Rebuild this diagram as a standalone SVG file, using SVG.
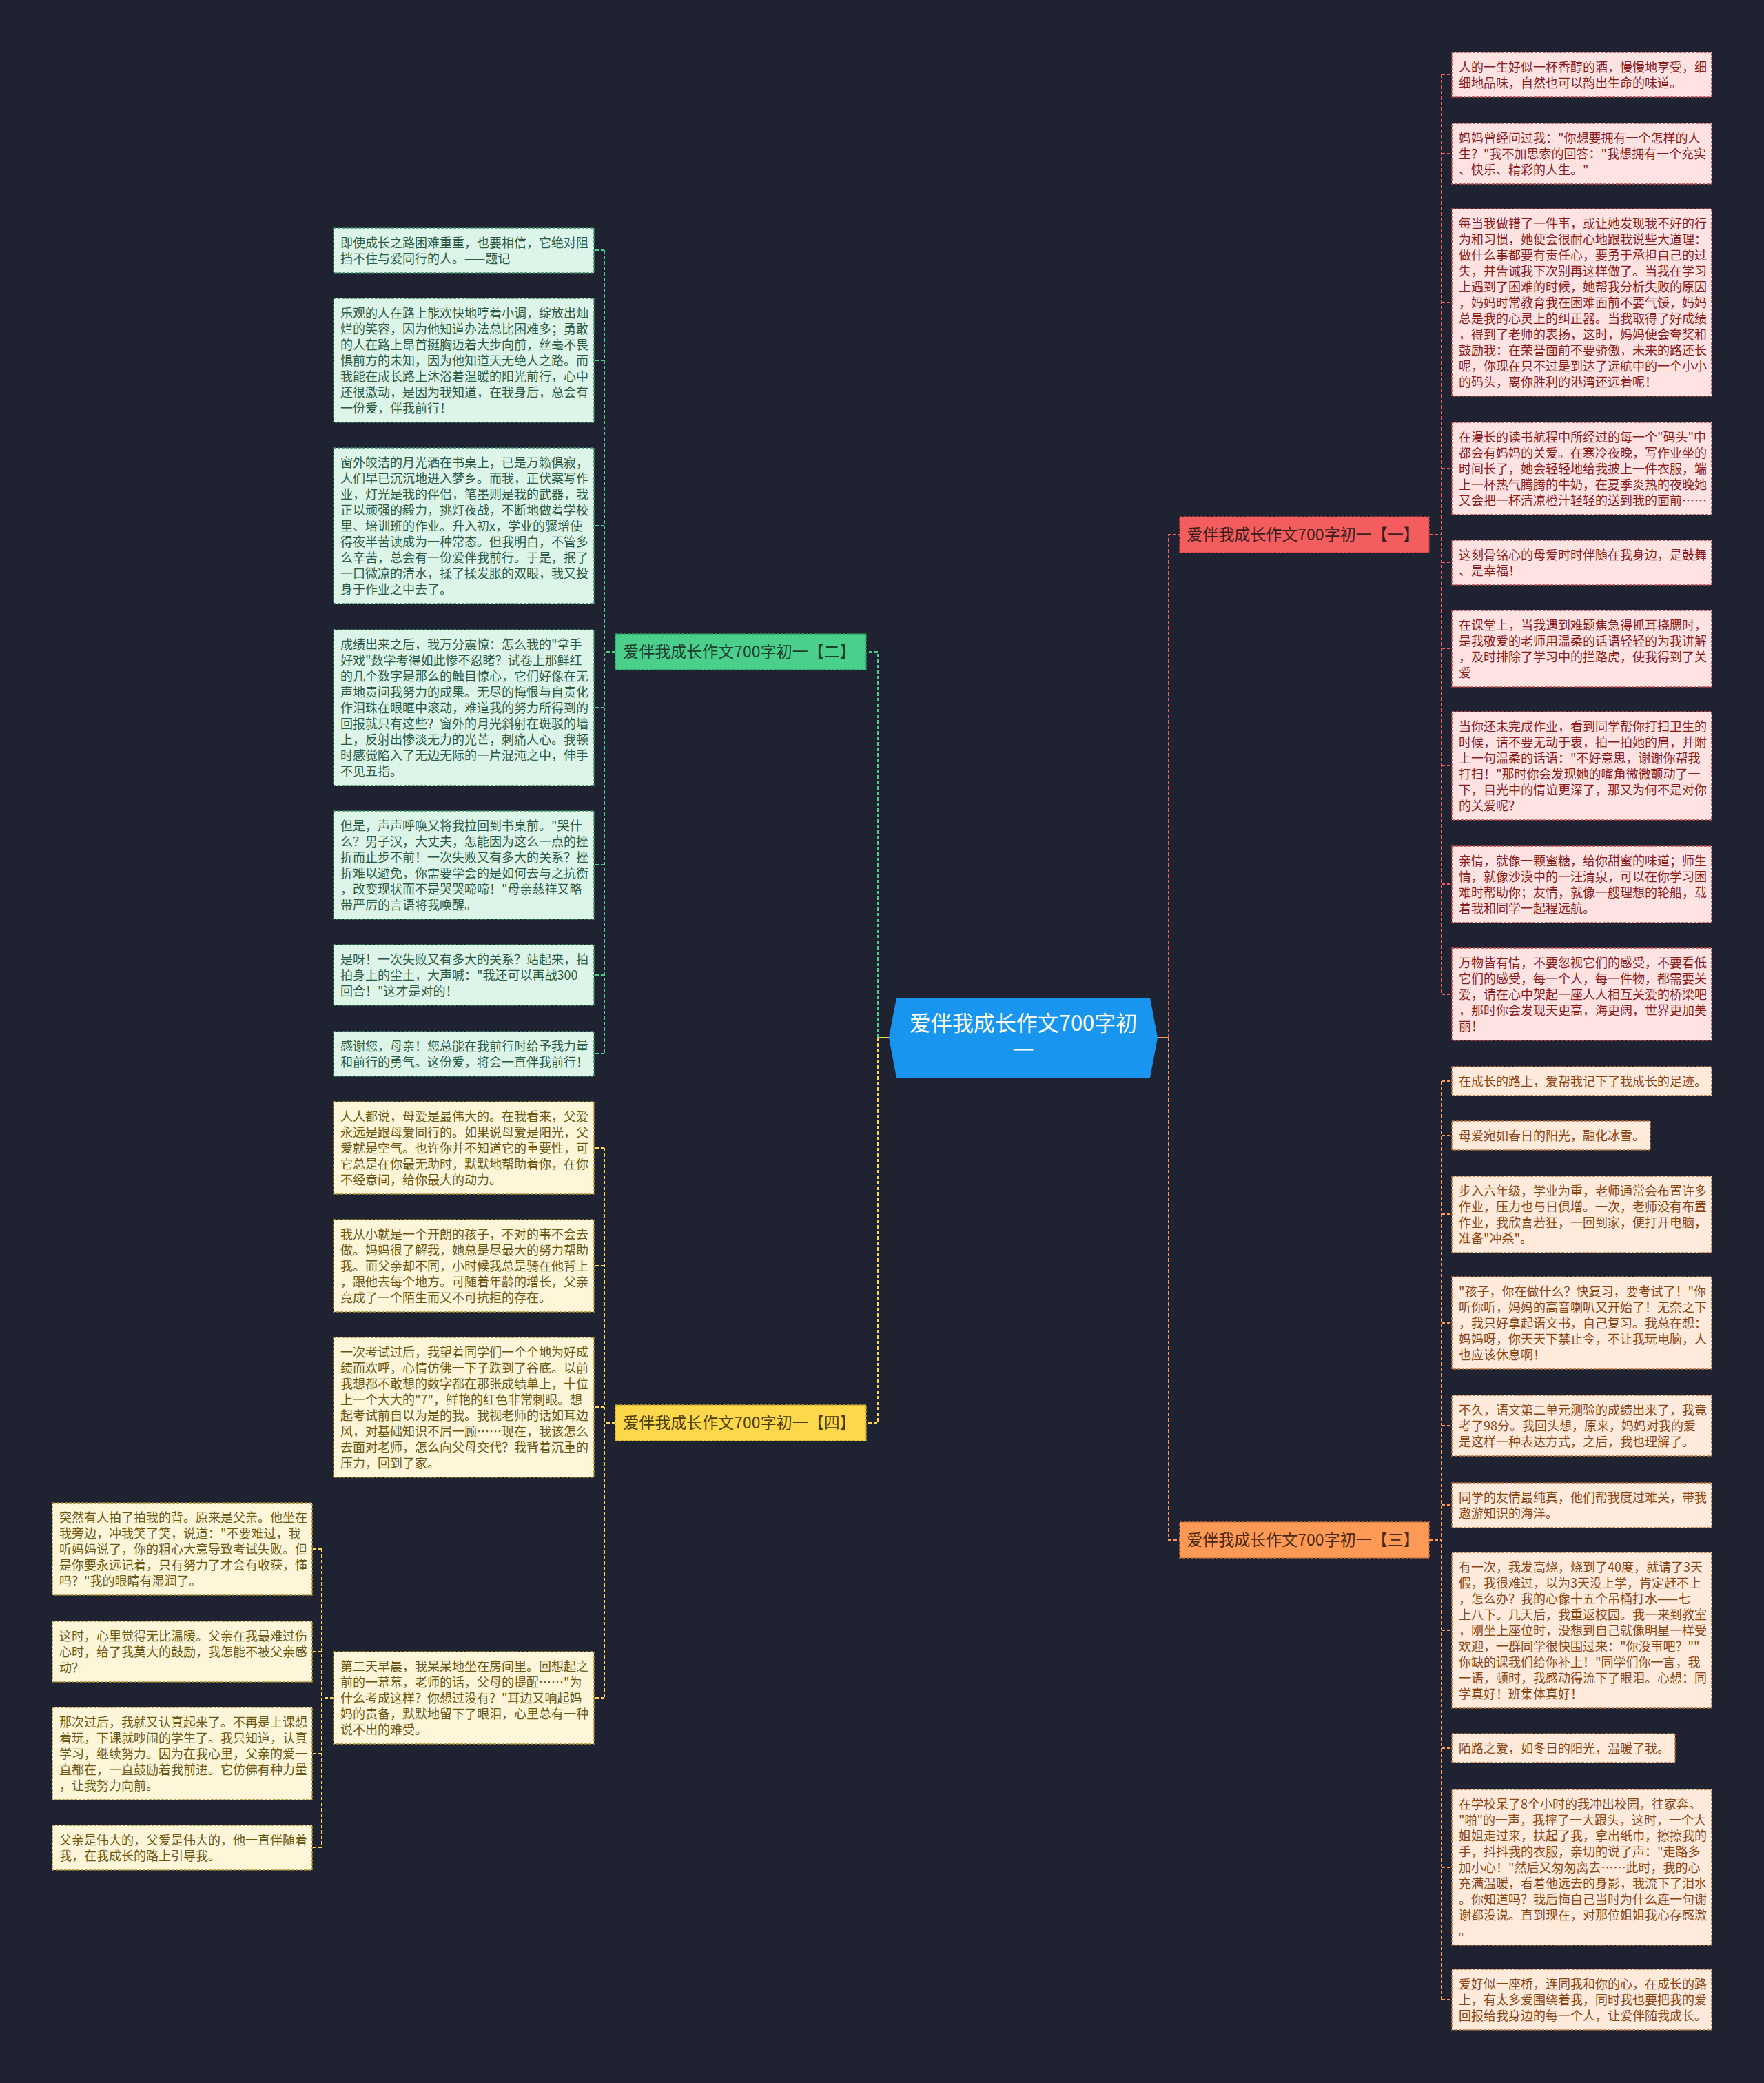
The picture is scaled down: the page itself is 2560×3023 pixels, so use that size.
<svg xmlns="http://www.w3.org/2000/svg" width="2560" height="3023" viewBox="0 0 2560 3023">
<style>
text{font-family:"Noto Sans CJK SC","Noto Sans",sans-serif}
.leaf rect{stroke-width:1.5;stroke-dasharray:4 2}
.leaf text{font-size:18px}
.red rect{fill:#ffe3e3;stroke:#b8484a}.red text{fill:#8b1c1c}
.org rect{fill:#ffeadb;stroke:#b8703a}.org text{fill:#8a4515}
.grn rect{fill:#dcf5e8;stroke:#3d8a64}.grn text{fill:#2d5a45}
.yel rect{fill:#fff6d9;stroke:#a88c2a}.yel text{fill:#6b5612}
.br rect{stroke-width:1.5;stroke-dasharray:4 2}
.br text{font-size:23px;text-anchor:middle}
.lk{fill:none;stroke-width:2;stroke-dasharray:5 3}
.lr{stroke:#f25c5c}.lo{stroke:#fe9956}.lg{stroke:#4bcf8c}.ly{stroke:#fdd84b}
</style>
<rect width="2560" height="3023" fill="#1f2230"/>
<g id="connectors">
<path d="M1680,1506 H1696" stroke="#fe9956" stroke-width="2" fill="none"/>
<path d="M1290,1506 H1274" stroke="#fdd84b" stroke-width="2" fill="none"/>
<path class="lk lr" d="M1696,1506 V776 H1712"/>
<path class="lk lo" d="M1696,1506 V2235 H1712"/>
<path class="lk lg" d="M1274,1506 V946 H1260"/>
<path class="lk ly" d="M1274,1506 V2065 H1260"/>
<path class="lk lr" d="M2074,776 H2092 M2092,108 V1443 M2092,108 H2107 M2092,223 H2107 M2092,439 H2107 M2092,680 H2107 M2092,816 H2107 M2092,941 H2107 M2092,1111 H2107 M2092,1283 H2107 M2092,1443 H2107"/>
<path class="lk lo" d="M2074,2235 H2092 M2092,1569 V2902 M2092,1569 H2107 M2092,1648 H2107 M2092,1762 H2107 M2092,1920 H2107 M2092,2069 H2107 M2092,2184 H2107 M2092,2366 H2107 M2092,2537 H2107 M2092,2710 H2107 M2092,2902 H2107"/>
<path class="lk lg" d="M893,946 H877 M877,363 V1529 M877,363 H862 M877,523 H862 M877,763 H862 M877,1027 H862 M877,1255 H862 M877,1415 H862 M877,1529 H862"/>
<path class="lk ly" d="M893,2065 H877 M877,1666 V2464 M877,1666 H862 M877,1837 H862 M877,2042 H862 M877,2464 H862"/>
<path class="lk ly" d="M484,2464 H467 M467,2248 V2681 M467,2248 H453 M467,2397 H453 M467,2545 H453 M467,2681 H453"/>
</g>
<g id="center">
<polygon points="1301,1448 1669,1448 1680,1506 1669,1564 1301,1564 1290,1506" fill="#1896ef"/>
<text x="1485" y="1496" font-size="31" fill="#ffffff" text-anchor="middle">爱伴我成长作文700字初</text>
<text x="1485" y="1535" font-size="31" fill="#ffffff" text-anchor="middle">一</text>
</g>
<g id="b1" class="br"><rect x="1712" y="750" width="362" height="52" fill="#f45d5d" stroke="#c24040"/><text x="1891" y="784" fill="#3a1f1f">爱伴我成长作文700字初一【一】</text></g>
<g id="b2" class="br"><rect x="893" y="920" width="364" height="52" fill="#4bcf8c" stroke="#2f9a62"/><text x="1073" y="954" fill="#1f3f2e">爱伴我成长作文700字初一【二】</text></g>
<g id="b4" class="br"><rect x="893" y="2039" width="364" height="52" fill="#fdd84b" stroke="#c2a22a"/><text x="1073" y="2073" fill="#4d3d0a">爱伴我成长作文700字初一【四】</text></g>
<g id="b3" class="br"><rect x="1712" y="2209" width="362" height="52" fill="#fe9956" stroke="#c8703a"/><text x="1891" y="2243" fill="#4a2a12">爱伴我成长作文700字初一【三】</text></g>

<g id="r1" class="leaf red"><rect x="2107" y="76" width="377" height="65"/><text y="104"><tspan x="2117">人的一生好似一杯香醇的酒，慢慢地享受，细</tspan><tspan x="2117" dy="23">细地品味，自然也可以韵出生命的味道。</tspan></text></g>
<g id="r2" class="leaf red"><rect x="2107" y="179" width="377" height="88"/><text y="207"><tspan x="2117">妈妈曾经问过我："你想要拥有一个怎样的人</tspan><tspan x="2117" dy="23">生？"我不加思索的回答："我想拥有一个充实</tspan><tspan x="2117" dy="23">、快乐、精彩的人生。"</tspan></text></g>
<g id="r3" class="leaf red"><rect x="2107" y="303" width="377" height="272"/><text y="331"><tspan x="2117">每当我做错了一件事，或让她发现我不好的行</tspan><tspan x="2117" dy="23">为和习惯，她便会很耐心地跟我说些大道理：</tspan><tspan x="2117" dy="23">做什么事都要有责任心，要勇于承担自己的过</tspan><tspan x="2117" dy="23">失，并告诫我下次别再这样做了。当我在学习</tspan><tspan x="2117" dy="23">上遇到了困难的时候，她帮我分析失败的原因</tspan><tspan x="2117" dy="23">，妈妈时常教育我在困难面前不要气馁，妈妈</tspan><tspan x="2117" dy="23">总是我的心灵上的纠正器。当我取得了好成绩</tspan><tspan x="2117" dy="23">，得到了老师的表扬，这时，妈妈便会夸奖和</tspan><tspan x="2117" dy="23">鼓励我：在荣誉面前不要骄傲，未来的路还长</tspan><tspan x="2117" dy="23">呢，你现在只不过是到达了远航中的一个小小</tspan><tspan x="2117" dy="23">的码头，离你胜利的港湾还远着呢！</tspan></text></g>
<g id="r4" class="leaf red"><rect x="2107" y="613" width="377" height="134"/><text y="641"><tspan x="2117">在漫长的读书航程中所经过的每一个"码头"中</tspan><tspan x="2117" dy="23">都会有妈妈的关爱。在寒冷夜晚，写作业坐的</tspan><tspan x="2117" dy="23">时间长了，她会轻轻地给我披上一件衣服，端</tspan><tspan x="2117" dy="23">上一杯热气腾腾的牛奶，在夏季炎热的夜晚她</tspan><tspan x="2117" dy="23">又会把一杯清凉橙汁轻轻的送到我的面前……</tspan></text></g>
<g id="r5" class="leaf red"><rect x="2107" y="784" width="377" height="65"/><text y="812"><tspan x="2117">这刻骨铭心的母爱时时伴随在我身边，是鼓舞</tspan><tspan x="2117" dy="23">、是幸福！</tspan></text></g>
<g id="r6" class="leaf red"><rect x="2107" y="886" width="377" height="111"/><text y="914"><tspan x="2117">在课堂上，当我遇到难题焦急得抓耳挠腮时，</tspan><tspan x="2117" dy="23">是我敬爱的老师用温柔的话语轻轻的为我讲解</tspan><tspan x="2117" dy="23">，及时排除了学习中的拦路虎，使我得到了关</tspan><tspan x="2117" dy="23">爱</tspan></text></g>
<g id="r7" class="leaf red"><rect x="2107" y="1033" width="377" height="157"/><text y="1061"><tspan x="2117">当你还未完成作业，看到同学帮你打扫卫生的</tspan><tspan x="2117" dy="23">时候，请不要无动于衷，拍一拍她的肩，并附</tspan><tspan x="2117" dy="23">上一句温柔的话语："不好意思，谢谢你帮我</tspan><tspan x="2117" dy="23">打扫！"那时你会发现她的嘴角微微颤动了一</tspan><tspan x="2117" dy="23">下，目光中的情谊更深了，那又为何不是对你</tspan><tspan x="2117" dy="23">的关爱呢？</tspan></text></g>
<g id="r8" class="leaf red"><rect x="2107" y="1228" width="377" height="111"/><text y="1256"><tspan x="2117">亲情，就像一颗蜜糖，给你甜蜜的味道；师生</tspan><tspan x="2117" dy="23">情，就像沙漠中的一汪清泉，可以在你学习困</tspan><tspan x="2117" dy="23">难时帮助你；友情，就像一艘理想的轮船，载</tspan><tspan x="2117" dy="23">着我和同学一起程远航。</tspan></text></g>
<g id="r9" class="leaf red"><rect x="2107" y="1376" width="377" height="134"/><text y="1404"><tspan x="2117">万物皆有情，不要忽视它们的感受，不要看低</tspan><tspan x="2117" dy="23">它们的感受，每一个人，每一件物，都需要关</tspan><tspan x="2117" dy="23">爱，请在心中架起一座人人相互关爱的桥梁吧</tspan><tspan x="2117" dy="23">，那时你会发现天更高，海更阔，世界更加美</tspan><tspan x="2117" dy="23">丽！</tspan></text></g>

<g id="o1" class="leaf org"><rect x="2107" y="1548" width="377" height="42"/><text y="1576"><tspan x="2117">在成长的路上，爱帮我记下了我成长的足迹。</tspan></text></g>
<g id="o2" class="leaf org"><rect x="2107" y="1627" width="288" height="42"/><text y="1655"><tspan x="2117">母爱宛如春日的阳光，融化冰雪。</tspan></text></g>
<g id="o3" class="leaf org"><rect x="2107" y="1707" width="377" height="111"/><text y="1735"><tspan x="2117">步入六年级，学业为重，老师通常会布置许多</tspan><tspan x="2117" dy="23">作业，压力也与日俱增。一次，老师没有布置</tspan><tspan x="2117" dy="23">作业，我欣喜若狂，一回到家，便打开电脑，</tspan><tspan x="2117" dy="23">准备"冲杀"。</tspan></text></g>
<g id="o4" class="leaf org"><rect x="2107" y="1853" width="377" height="134"/><text y="1881"><tspan x="2117">"孩子，你在做什么？快复习，要考试了！"你</tspan><tspan x="2117" dy="23">听你听，妈妈的高音喇叭又开始了！无奈之下</tspan><tspan x="2117" dy="23">，我只好拿起语文书，自己复习。我总在想：</tspan><tspan x="2117" dy="23">妈妈呀，你天天下禁止令，不让我玩电脑，人</tspan><tspan x="2117" dy="23">也应该休息啊！</tspan></text></g>
<g id="o5" class="leaf org"><rect x="2107" y="2025" width="377" height="88"/><text y="2053"><tspan x="2117">不久，语文第二单元测验的成绩出来了，我竟</tspan><tspan x="2117" dy="23">考了98分。我回头想，原来，妈妈对我的爱</tspan><tspan x="2117" dy="23">是这样一种表达方式，之后，我也理解了。</tspan></text></g>
<g id="o6" class="leaf org"><rect x="2107" y="2152" width="377" height="65"/><text y="2180"><tspan x="2117">同学的友情最纯真，他们帮我度过难关，带我</tspan><tspan x="2117" dy="23">遨游知识的海洋。</tspan></text></g>
<g id="o7" class="leaf org"><rect x="2107" y="2253" width="377" height="226"/><text y="2281"><tspan x="2117">有一次，我发高烧，烧到了40度，就请了3天</tspan><tspan x="2117" dy="23">假，我很难过，以为3天没上学，肯定赶不上</tspan><tspan x="2117" dy="23">，怎么办？我的心像十五个吊桶打水——七</tspan><tspan x="2117" dy="23">上八下。几天后，我重返校园。我一来到教室</tspan><tspan x="2117" dy="23">，刚坐上座位时，没想到自己就像明星一样受</tspan><tspan x="2117" dy="23">欢迎，一群同学很快围过来："你没事吧？""</tspan><tspan x="2117" dy="23">你缺的课我们给你补上！"同学们你一言，我</tspan><tspan x="2117" dy="23">一语，顿时，我感动得流下了眼泪。心想：同</tspan><tspan x="2117" dy="23">学真好！班集体真好！</tspan></text></g>
<g id="o8" class="leaf org"><rect x="2107" y="2516" width="324" height="42"/><text y="2544"><tspan x="2117">陌路之爱，如冬日的阳光，温暖了我。</tspan></text></g>
<g id="o9" class="leaf org"><rect x="2107" y="2597" width="377" height="226"/><text y="2625"><tspan x="2117">在学校呆了8个小时的我冲出校园，往家奔。</tspan><tspan x="2117" dy="23">"啪"的一声，我摔了一大跟头，这时，一个大</tspan><tspan x="2117" dy="23">姐姐走过来，扶起了我，拿出纸巾，擦擦我的</tspan><tspan x="2117" dy="23">手，抖抖我的衣服，亲切的说了声："走路多</tspan><tspan x="2117" dy="23">加小心！"然后又匆匆离去……此时，我的心</tspan><tspan x="2117" dy="23">充满温暖，看着他远去的身影，我流下了泪水</tspan><tspan x="2117" dy="23">。你知道吗？我后悔自己当时为什么连一句谢</tspan><tspan x="2117" dy="23">谢都没说。直到现在，对那位姐姐我心存感激</tspan><tspan x="2117" dy="23">。</tspan></text></g>
<g id="o10" class="leaf org"><rect x="2107" y="2858" width="377" height="88"/><text y="2886"><tspan x="2117">爱好似一座桥，连同我和你的心，在成长的路</tspan><tspan x="2117" dy="23">上，有太多爱围绕着我，同时我也要把我的爱</tspan><tspan x="2117" dy="23">回报给我身边的每一个人，让爱伴随我成长。</tspan></text></g>

<g id="g1" class="leaf grn"><rect x="484" y="331" width="378" height="65"/><text y="359"><tspan x="494">即使成长之路困难重重，也要相信，它绝对阻</tspan><tspan x="494" dy="23">挡不住与爱同行的人。——题记</tspan></text></g>
<g id="g2" class="leaf grn"><rect x="484" y="433" width="378" height="180"/><text y="461"><tspan x="494">乐观的人在路上能欢快地哼着小调，绽放出灿</tspan><tspan x="494" dy="23">烂的笑容，因为他知道办法总比困难多；勇敢</tspan><tspan x="494" dy="23">的人在路上昂首挺胸迈着大步向前，丝毫不畏</tspan><tspan x="494" dy="23">惧前方的未知，因为他知道天无绝人之路。而</tspan><tspan x="494" dy="23">我能在成长路上沐浴着温暖的阳光前行，心中</tspan><tspan x="494" dy="23">还很激动，是因为我知道，在我身后，总会有</tspan><tspan x="494" dy="23">一份爱，伴我前行！</tspan></text></g>
<g id="g3" class="leaf grn"><rect x="484" y="650" width="378" height="226"/><text y="678"><tspan x="494">窗外皎洁的月光洒在书桌上，已是万籁俱寂，</tspan><tspan x="494" dy="23">人们早已沉沉地进入梦乡。而我，正伏案写作</tspan><tspan x="494" dy="23">业，灯光是我的伴侣，笔墨则是我的武器，我</tspan><tspan x="494" dy="23">正以顽强的毅力，挑灯夜战，不断地做着学校</tspan><tspan x="494" dy="23">里、培训班的作业。升入初x，学业的骤增使</tspan><tspan x="494" dy="23">得夜半苦读成为一种常态。但我明白，不管多</tspan><tspan x="494" dy="23">么辛苦，总会有一份爱伴我前行。于是，抿了</tspan><tspan x="494" dy="23">一口微凉的清水，揉了揉发胀的双眼，我又投</tspan><tspan x="494" dy="23">身于作业之中去了。</tspan></text></g>
<g id="g4" class="leaf grn"><rect x="484" y="914" width="378" height="226"/><text y="942"><tspan x="494">成绩出来之后，我万分震惊：怎么我的"拿手</tspan><tspan x="494" dy="23">好戏"数学考得如此惨不忍睹？试卷上那鲜红</tspan><tspan x="494" dy="23">的几个数字是那么的触目惊心，它们好像在无</tspan><tspan x="494" dy="23">声地责问我努力的成果。无尽的悔恨与自责化</tspan><tspan x="494" dy="23">作泪珠在眼眶中滚动，难道我的努力所得到的</tspan><tspan x="494" dy="23">回报就只有这些？窗外的月光斜射在斑驳的墙</tspan><tspan x="494" dy="23">上，反射出惨淡无力的光芒，刺痛人心。我顿</tspan><tspan x="494" dy="23">时感觉陷入了无边无际的一片混沌之中，伸手</tspan><tspan x="494" dy="23">不见五指。</tspan></text></g>
<g id="g5" class="leaf grn"><rect x="484" y="1177" width="378" height="157"/><text y="1205"><tspan x="494">但是，声声呼唤又将我拉回到书桌前。"哭什</tspan><tspan x="494" dy="23">么？男子汉，大丈夫，怎能因为这么一点的挫</tspan><tspan x="494" dy="23">折而止步不前！一次失败又有多大的关系？挫</tspan><tspan x="494" dy="23">折难以避免，你需要学会的是如何去与之抗衡</tspan><tspan x="494" dy="23">，改变现状而不是哭哭啼啼！"母亲慈祥又略</tspan><tspan x="494" dy="23">带严厉的言语将我唤醒。</tspan></text></g>
<g id="g6" class="leaf grn"><rect x="484" y="1371" width="378" height="88"/><text y="1399"><tspan x="494">是呀！一次失败又有多大的关系？站起来，拍</tspan><tspan x="494" dy="23">拍身上的尘土，大声喊："我还可以再战300</tspan><tspan x="494" dy="23">回合！"这才是对的！</tspan></text></g>
<g id="g7" class="leaf grn"><rect x="484" y="1497" width="378" height="65"/><text y="1525"><tspan x="494">感谢您，母亲！您总能在我前行时给予我力量</tspan><tspan x="494" dy="23">和前行的勇气。这份爱，将会一直伴我前行！</tspan></text></g>

<g id="y1" class="leaf yel"><rect x="484" y="1599" width="378" height="134"/><text y="1627"><tspan x="494">人人都说，母爱是最伟大的。在我看来，父爱</tspan><tspan x="494" dy="23">永远是跟母爱同行的。如果说母爱是阳光，父</tspan><tspan x="494" dy="23">爱就是空气。也许你并不知道它的重要性，可</tspan><tspan x="494" dy="23">它总是在你最无助时，默默地帮助着你，在你</tspan><tspan x="494" dy="23">不经意间，给你最大的动力。</tspan></text></g>
<g id="y2" class="leaf yel"><rect x="484" y="1770" width="378" height="134"/><text y="1798"><tspan x="494">我从小就是一个开朗的孩子，不对的事不会去</tspan><tspan x="494" dy="23">做。妈妈很了解我，她总是尽最大的努力帮助</tspan><tspan x="494" dy="23">我。而父亲却不同，小时候我总是骑在他背上</tspan><tspan x="494" dy="23">，跟他去每个地方。可随着年龄的增长，父亲</tspan><tspan x="494" dy="23">竟成了一个陌生而又不可抗拒的存在。</tspan></text></g>
<g id="y3" class="leaf yel"><rect x="484" y="1941" width="378" height="203"/><text y="1969"><tspan x="494">一次考试过后，我望着同学们一个个地为好成</tspan><tspan x="494" dy="23">绩而欢呼，心情仿佛一下子跌到了谷底。以前</tspan><tspan x="494" dy="23">我想都不敢想的数字都在那张成绩单上，十位</tspan><tspan x="494" dy="23">上一个大大的"7"，鲜艳的红色非常刺眼。想</tspan><tspan x="494" dy="23">起考试前自以为是的我。我视老师的话如耳边</tspan><tspan x="494" dy="23">风，对基础知识不屑一顾……现在，我该怎么</tspan><tspan x="494" dy="23">去面对老师，怎么向父母交代？我背着沉重的</tspan><tspan x="494" dy="23">压力，回到了家。</tspan></text></g>
<g id="y4" class="leaf yel"><rect x="484" y="2397" width="378" height="134"/><text y="2425"><tspan x="494">第二天早晨，我呆呆地坐在房间里。回想起之</tspan><tspan x="494" dy="23">前的一幕幕，老师的话，父母的提醒……"为</tspan><tspan x="494" dy="23">什么考成这样？你想过没有？"耳边又响起妈</tspan><tspan x="494" dy="23">妈的责备，默默地留下了眼泪，心里总有一种</tspan><tspan x="494" dy="23">说不出的难受。</tspan></text></g>

<g id="f1" class="leaf yel"><rect x="76" y="2181" width="377" height="134"/><text y="2209"><tspan x="86">突然有人拍了拍我的背。原来是父亲。他坐在</tspan><tspan x="86" dy="23">我旁边，冲我笑了笑，说道："不要难过，我</tspan><tspan x="86" dy="23">听妈妈说了，你的粗心大意导致考试失败。但</tspan><tspan x="86" dy="23">是你要永远记着，只有努力了才会有收获，懂</tspan><tspan x="86" dy="23">吗？"我的眼睛有湿润了。</tspan></text></g>
<g id="f2" class="leaf yel"><rect x="76" y="2353" width="377" height="88"/><text y="2381"><tspan x="86">这时，心里觉得无比温暖。父亲在我最难过伤</tspan><tspan x="86" dy="23">心时，给了我莫大的鼓励，我怎能不被父亲感</tspan><tspan x="86" dy="23">动？</tspan></text></g>
<g id="f3" class="leaf yel"><rect x="76" y="2478" width="377" height="134"/><text y="2506"><tspan x="86">那次过后，我就又认真起来了。不再是上课想</tspan><tspan x="86" dy="23">着玩，下课就吵闹的学生了。我只知道，认真</tspan><tspan x="86" dy="23">学习，继续努力。因为在我心里，父亲的爱一</tspan><tspan x="86" dy="23">直都在，一直鼓励着我前进。它仿佛有种力量</tspan><tspan x="86" dy="23">，让我努力向前。</tspan></text></g>
<g id="f4" class="leaf yel"><rect x="76" y="2649" width="377" height="65"/><text y="2677"><tspan x="86">父亲是伟大的，父爱是伟大的，他一直伴随着</tspan><tspan x="86" dy="23">我，在我成长的路上引导我。</tspan></text></g>
</svg>
